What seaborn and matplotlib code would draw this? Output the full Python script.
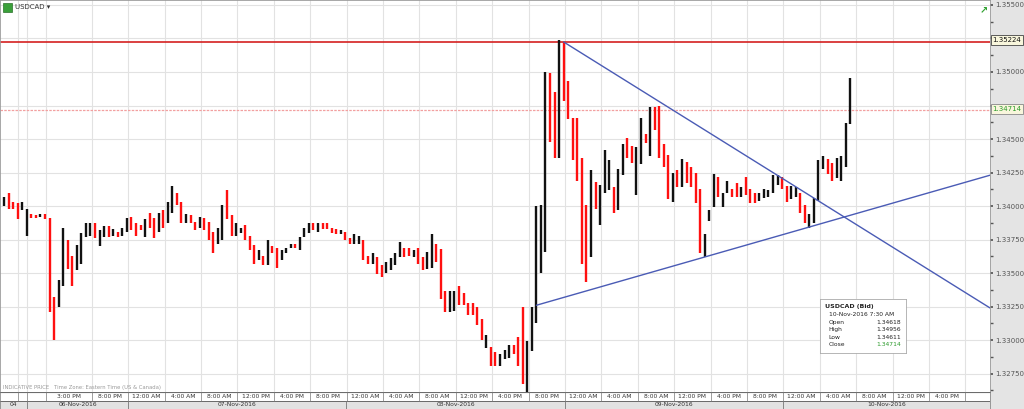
import matplotlib
matplotlib.use("Agg")
import matplotlib.pyplot as plt
import seaborn as sns
import numpy as np
from matplotlib.patches import Rectangle

# --- data: 30-minute USDCAD bars (high, low, up/down) ---
highs = [
    1.3407, 1.3410, 1.3403, 1.3402, 1.3403, 1.3398, 1.3394, 1.3393, 1.3394, 1.3394,
    1.3391, 1.3332, 1.3345, 1.3384, 1.3375, 1.3363, 1.3371, 1.3380, 1.3387, 1.3387,
    1.3387, 1.3382, 1.3385, 1.3385, 1.3383, 1.3381, 1.3384, 1.3391, 1.3392, 1.3387,
    1.3386, 1.3390, 1.3395, 1.3391, 1.3395, 1.3397, 1.3403, 1.3415, 1.3410, 1.3403,
    1.3394, 1.3393, 1.3388, 1.3392, 1.3391, 1.3388, 1.3381, 1.3384, 1.3401, 1.3412,
    1.3393, 1.3387, 1.3384, 1.3386, 1.3378, 1.3371, 1.3367, 1.3363, 1.3375, 1.3370,
    1.3369, 1.3367, 1.3369, 1.3372, 1.3372, 1.3377, 1.3384, 1.3387, 1.3387, 1.3387,
    1.3387, 1.3387, 1.3384, 1.3383, 1.3382, 1.3381, 1.3376, 1.3379, 1.3378, 1.3375,
    1.3363, 1.3365, 1.3362, 1.3356, 1.3358, 1.3361, 1.3365, 1.3373, 1.3369, 1.3369,
    1.3367, 1.3369, 1.3362, 1.3366, 1.3379, 1.3372, 1.3368, 1.3337, 1.3337, 1.3337,
    1.3340, 1.3335, 1.3328, 1.3328, 1.3325, 1.3316, 1.3304, 1.3295, 1.3291, 1.3290,
    1.3293, 1.3296, 1.3296, 1.3302, 1.3325, 1.3299, 1.3325, 1.3400, 1.3401, 1.3500,
    1.3499, 1.3485, 1.3524, 1.35224, 1.3493, 1.3466, 1.3466, 1.3436, 1.3401, 1.3427,
    1.3418, 1.3416, 1.3442, 1.3434, 1.3414, 1.3428, 1.3446, 1.3451, 1.3445, 1.3444,
    1.3466, 1.3454, 1.3474, 1.3474, 1.3475, 1.3446, 1.3438, 1.3425, 1.3427, 1.3435,
    1.3433, 1.3429, 1.3425, 1.3413, 1.3379, 1.3397, 1.3424, 1.3422, 1.3410, 1.3419,
    1.3413, 1.3417, 1.3414, 1.3422, 1.3413, 1.3410, 1.3410, 1.3413, 1.3412, 1.3423,
    1.3423, 1.3422, 1.3415, 1.3415, 1.3414, 1.3410, 1.3401, 1.3394, 1.3406, 1.3434,
    1.3437, 1.3435, 1.3432, 1.3436, 1.3437, 1.3462, 1.34956,
]
lows = [
    1.3400, 1.3398, 1.3398, 1.3390, 1.3397, 1.3378, 1.3391, 1.3391, 1.3392, 1.3390,
    1.3321, 1.3300, 1.3325, 1.3340, 1.3353, 1.3340, 1.3352, 1.3357, 1.3377, 1.3378,
    1.3376, 1.3370, 1.3377, 1.3377, 1.3378, 1.3377, 1.3378, 1.3381, 1.3382, 1.3378,
    1.3382, 1.3377, 1.3384, 1.3376, 1.3381, 1.3384, 1.3387, 1.3395, 1.3401, 1.3387,
    1.3387, 1.3387, 1.3382, 1.3384, 1.3382, 1.3375, 1.3365, 1.3372, 1.3375, 1.3390,
    1.3378, 1.3378, 1.3380, 1.3375, 1.3367, 1.3357, 1.3360, 1.3356, 1.3356, 1.3365,
    1.3354, 1.3360, 1.3365, 1.3369, 1.3369, 1.3367, 1.3377, 1.3380, 1.3382, 1.3381,
    1.3383, 1.3383, 1.3380, 1.3379, 1.3379, 1.3375, 1.3372, 1.3372, 1.3372, 1.3360,
    1.3357, 1.3357, 1.3349, 1.3347, 1.3350, 1.3352, 1.3356, 1.3362, 1.3362, 1.3363,
    1.3362, 1.3357, 1.3352, 1.3353, 1.3354, 1.3358, 1.3331, 1.3321, 1.3321, 1.3322,
    1.3326, 1.3326, 1.3319, 1.3319, 1.3311, 1.3300, 1.3294, 1.3281, 1.3281, 1.3281,
    1.3286, 1.3287, 1.3290, 1.3281, 1.3267, 1.3261, 1.3292, 1.3313, 1.3350, 1.3366,
    1.3448, 1.3436, 1.3436, 1.3478, 1.3465, 1.3434, 1.3419, 1.3357, 1.3343, 1.3362,
    1.3398, 1.3386, 1.3410, 1.3412, 1.3395, 1.3397, 1.3423, 1.3436, 1.3432, 1.3408,
    1.3431, 1.3447, 1.3437, 1.3457, 1.3436, 1.3429, 1.3405, 1.3403, 1.3414, 1.3414,
    1.3417, 1.3414, 1.3402, 1.3365, 1.3362, 1.3389, 1.3399, 1.3407, 1.3399, 1.3410,
    1.3407, 1.3407, 1.3407, 1.3408, 1.3402, 1.3402, 1.3404, 1.3406, 1.3407, 1.3410,
    1.3416, 1.3413, 1.3403, 1.3405, 1.3407, 1.3395, 1.3387, 1.3384, 1.3387, 1.3404,
    1.3428, 1.3424, 1.3419, 1.3421, 1.3419, 1.3429, 1.34611,
]
direction = list(
    "uddduuddud"
    "dduudduuuu"
    "duududuudd"
    "dudduduudd"
    "udduddduud"
    "duudddudud"
    "duuuduuudu"
    "ddddudduud"
    "dudduuuudd"
    "udduuddduu"
    "dddddduddu"
    "uuddduuuuu"
    "dduddddddu"
    "duuuduuddu"
    "ududdddudu"
    "dddduuuduu"
    "dduddduuuu"
    "udduudduuu"
    "udduuuu"
)

resistance = 1.35224
last_price = 1.34714
down_trend_x, down_trend_y = [123, 216.7], [1.35224, 1.3324]
up_trend_x, up_trend_y = [117, 216.7], [1.3326, 1.3423]

y_ticks = [1.3275, 1.3300, 1.3325, 1.3350, 1.3375, 1.3400, 1.3425, 1.3450,
           1.3475, 1.3500, 1.3525, 1.3550]
hidden_ticks = [1.3475, 1.3525]  # covered by the price boxes
time_labels = ["8:00 PM", "12:00 AM", "4:00 AM", "8:00 AM", "12:00 PM", "4:00 PM"]
day_labels = ["04", "06-Nov-2016", "07-Nov-2016", "08-Nov-2016", "09-Nov-2016", "10-Nov-2016"]
day_bounds = [-0.9, 5.05, 27.25, 75.25, 123.25, 171.25, 216.7]
info_rows = [("Open", "1.34618"), ("High", "1.34956"), ("Low", "1.34611"), ("Close", "1.34714")]

sns.set_theme(style="white")
plt.rcParams["font.family"] = ["DejaVu Sans"]

fig = plt.figure(figsize=(10.24, 4.09), dpi=100)
fig.patch.set_facecolor("#e4e4e4")
W, H = 1024, 409
ax = fig.add_axes([0, 17 / H, 990 / W, 392 / H])
ax.set_facecolor("white")

x0, x1 = -0.88, 216.7
ax.set_xlim(x0, x1)
ax.set_ylim(1.32613, 1.35537)

grid_x = [3.1, 5.05, 9.2] + [19.3 + 8 * k for k in range(25)]
for gx in grid_x:
    ax.axvline(gx, color="#e2e2e2", lw=0.8, zorder=0)
for gy in y_ticks:
    ax.axhline(gy, color="#e2e2e2", lw=0.8, zorder=0)

idx = np.arange(len(highs))
colors = ["#111111" if d == "u" else "#ff1010" for d in direction]
ax.vlines(idx, lows, highs, colors=colors, lw=1.7, zorder=3)

ax.axhline(resistance, color="#d42020", lw=1.2, zorder=2)
ax.axhline(last_price, color="#f2a0a0", lw=0.9, ls=(0, (2, 1)), zorder=2)
sns.lineplot(x=down_trend_x, y=down_trend_y, ax=ax, color="#4a5bb5", lw=1.0, zorder=4)
sns.lineplot(x=up_trend_x, y=up_trend_y, ax=ax, color="#4a5bb5", lw=1.0, zorder=4)

ax.set_xticks([])
ax.yaxis.tick_right()
ax.set_yticks(y_ticks)
ax.set_yticklabels(["" if v in hidden_ticks else f"{v:.5f}" for v in y_ticks],
                   fontsize=5, color="#444444")
ax.set_yticks(np.arange(1.32625, 1.3555, 0.00125), minor=True)
ax.tick_params(axis="y", which="both", direction="out", length=2, pad=2,
               colors="#555555", right=True)
for s in ax.spines.values():
    s.set_color("#999999")
    s.set_linewidth(0.6)

# header
fig.add_artist(Rectangle((3 / W, 1 - 12 / H), 9 / W, 9 / H, transform=fig.transFigure,
                         facecolor="#3aa03a", edgecolor="#2a702a", lw=0.5))
fig.text(15 / W, 1 - 7 / H, "USDCAD ▾", fontsize=5, color="#333333", va="center")
fig.text(984 / W, 1 - 10 / H, "↗", fontsize=7, color="#30a030", va="center", ha="center",
         fontweight="bold")

# price boxes
fig.text(1007 / W, 1 - 40 / H, f"{resistance:.5f}", fontsize=5, color="#111111",
         ha="center", va="center",
         bbox=dict(boxstyle="square,pad=0.25", fc="#f8f6dc", ec="#444444", lw=0.6))
fig.text(1007 / W, 1 - 109 / H, f"{last_price:.5f}", fontsize=5, color="#2a9a2a",
         ha="center", va="center",
         bbox=dict(boxstyle="square,pad=0.25", fc="#f8f6dc", ec="#888888", lw=0.6))

# info box
ib = ax.inset_axes([820 / 990, 1 - 353 / 392, 86 / 990, 54 / 392])
ib.set_xticks([]); ib.set_yticks([])
ib.set_facecolor("white")
for s in ib.spines.values():
    s.set_color("#aaaaaa"); s.set_linewidth(0.6)
ib.set_xlim(0, 1); ib.set_ylim(0, 1)
ib.text(0.06, 0.86, "USDCAD (Bid)", fontsize=4.5, fontweight="bold", va="center", color="#222222")
ib.text(0.1, 0.71, "10-Nov-2016 7:30 AM", fontsize=4.3, va="center", color="#222222")
for k, (name, val) in enumerate(info_rows):
    yy = 0.57 - k * 0.14
    ib.text(0.1, yy, name, fontsize=4.3, va="center", color="#222222")
    ib.text(0.94, yy, val, fontsize=4.3, va="center", ha="right",
            color="#2a9a2a" if name == "Close" else "#222222")

ax.text(0.003, 1 - 388 / 392, "INDICATIVE PRICE   Time Zone: Eastern Time (US & Canada)",
        transform=ax.transAxes, fontsize=3.8, color="#9a9a9a", va="center")

# time axis rows
tx = fig.add_axes([0, 0, 990 / W, 17 / H], sharex=ax)
tx.set_ylim(0, 17)
tx.set_facecolor("white")
tx.add_patch(Rectangle((x0, 0), x1 - x0, 8, facecolor="#e2e2e2", edgecolor="none"))
tx.axhline(8, color="#555555", lw=0.6)
tx.axhline(16.6, color="#555555", lw=0.8)
cells = [3.1, 5.05, 9.2] + [19.3 + 8 * k for k in range(25)]
for c in cells:
    tx.plot([c, c], [8, 16.6], color="#777777", lw=0.5)
tx.text(14.2, 12.3, "3:00 PM", fontsize=4.3, ha="center", va="center", color="#333333")
for k in range(24):
    c0 = 19.3 + 8 * k
    tx.text(c0 + 4, 12.3, time_labels[k % 6], fontsize=4.3, ha="center", va="center",
            color="#333333")
for b in day_bounds[1:-1]:
    tx.plot([b, b], [0, 8], color="#777777", lw=0.6)
for lab, a, b in zip(day_labels, day_bounds[:-1], day_bounds[1:]):
    tx.text((a + b) / 2, 4, lab, fontsize=4.3, ha="center", va="center", color="#333333")
tx.set_xticks([]); tx.set_yticks([])
for s in tx.spines.values():
    s.set_color("#777777"); s.set_linewidth(0.5)

fig.savefig("out.png", dpi=100)
